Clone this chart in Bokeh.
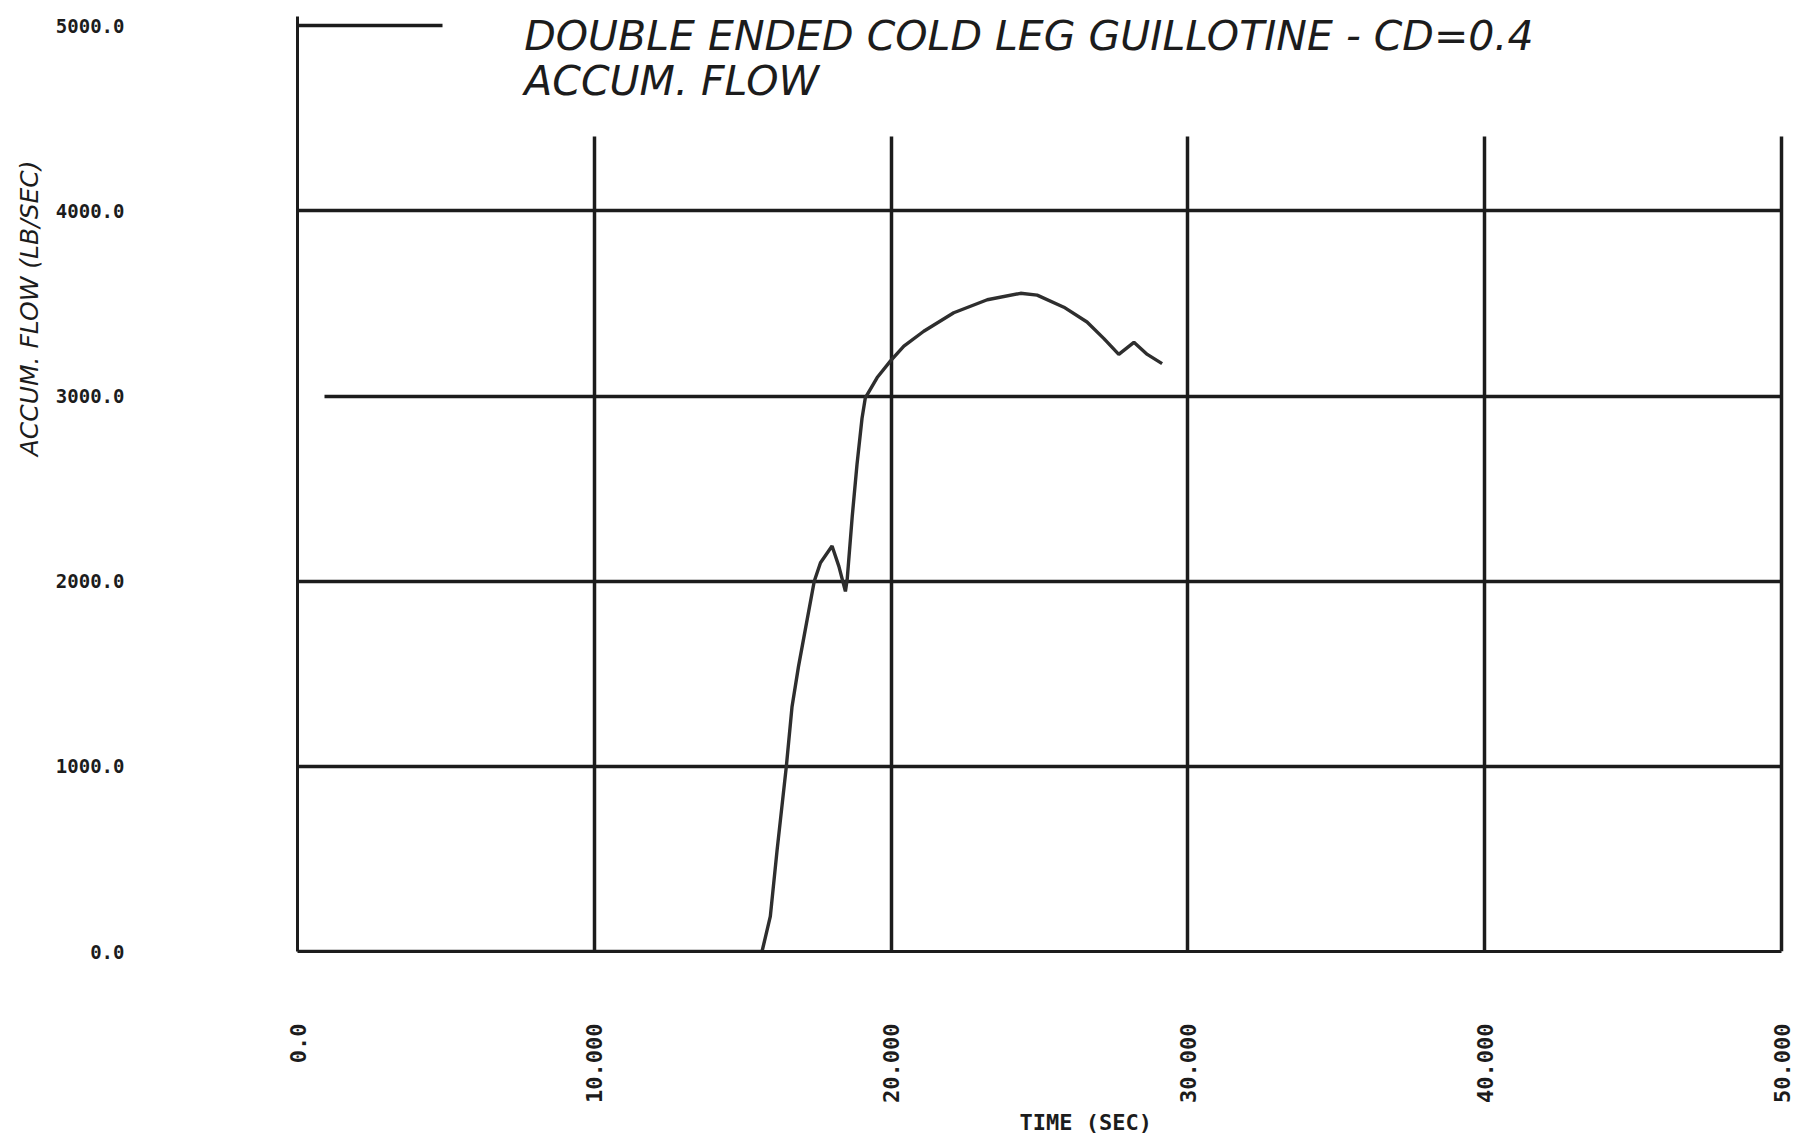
from math import pi
from bokeh.plotting import figure
from bokeh.models import FixedTicker, Grid, Label, PrintfTickFormatter, Range1d, Title
from bokeh.embed import file_html
from bokeh.resources import INLINE

# ---- data ----
time_sec = [0.0, 15.65, 15.93, 16.16, 16.47, 16.66, 16.88, 17.11, 17.41, 17.62,
            18.01, 18.24, 18.46, 18.52, 18.69, 18.85, 19.02, 19.13, 19.53, 19.98,
            20.43, 21.10, 22.11, 23.24, 24.36, 24.92, 25.82, 26.60, 27.17, 27.67,
            28.18, 28.63, 29.13]
accum_flow = [0, 0, 190, 550, 1000, 1320, 1540, 1740, 2000, 2100,
              2190, 2080, 1945, 2010, 2350, 2630, 2880, 2990, 3100, 3190,
              3270, 3350, 3450, 3520, 3555, 3545, 3480, 3400, 3310, 3225,
              3290, 3225, 3175]

x_ticks = [0, 10, 20, 30, 40, 50]
x_tick_labels = ["0.0", "10.000", "20.000", "30.000", "40.000", "50.000"]
y_ticks = [0, 1000, 2000, 3000, 4000, 5000]

title_line1 = "DOUBLE ENDED COLD LEG GUILLOTINE - CD=0.4"
title_line2 = "ACCUM. FLOW"
x_title = "TIME (SEC)"
y_title = "ACCUM. FLOW (LB/SEC)"

INK = "#1c1c1c"
MONO = "DejaVu Sans Mono"

p = figure(width=1795, height=1144,
           x_range=Range1d(0, 50.47), y_range=Range1d(0, 5050),
           output_backend="svg", toolbar_location=None,
           min_border_left=297, min_border_right=0,
           min_border_top=16, min_border_bottom=193)
p.outline_line_color = None
p.background_fill_color = "white"
p.border_fill_color = "white"

# x axis
xa = p.xaxis[0]
xa.ticker = FixedTicker(ticks=x_ticks)
xa.bounds = (0, 50)
xa.major_label_overrides = {t: l for t, l in zip(x_ticks, x_tick_labels)}
xa.major_label_orientation = pi / 2
xa.major_label_standoff = 66
xa.major_label_text_font = MONO
xa.major_label_text_font_style = "bold"
xa.major_label_text_font_size = "22px"
xa.major_label_text_color = INK
xa.major_tick_line_color = None
xa.minor_tick_line_color = None
xa.axis_line_color = INK
xa.axis_line_width = 3

# y axis
ya = p.yaxis[0]
ya.ticker = FixedTicker(ticks=y_ticks)
ya.formatter = PrintfTickFormatter(format="%.1f")
ya.major_label_standoff = 167
ya.major_label_text_font = MONO
ya.major_label_text_font_style = "bold"
ya.major_label_text_font_size = "19px"
ya.major_label_text_color = INK
ya.major_tick_line_color = None
ya.minor_tick_line_color = None
ya.axis_line_color = INK
ya.axis_line_width = 3

# grids
p.xgrid.ticker = FixedTicker(ticks=[10, 20, 30, 40, 50])
p.xgrid.cross_bounds = (0, 4400)
p.ygrid.ticker = FixedTicker(ticks=[1000, 2000, 4000])
p.ygrid.cross_bounds = (0, 50)
for g in (p.xgrid[0], p.ygrid[0]):
    g.grid_line_color = INK
    g.grid_line_width = 3.5
    g.grid_line_alpha = 1.0

g3000 = Grid(dimension=1, ticker=FixedTicker(ticks=[3000]), cross_bounds=(0.9, 50),
             grid_line_color=INK, grid_line_width=3.5)
gtop = Grid(dimension=1, ticker=FixedTicker(ticks=[5000]), cross_bounds=(0, 4.9),
            grid_line_color=INK, grid_line_width=3.5)
p.add_layout(g3000)
p.add_layout(gtop)

# data curve
p.line(time_sec, accum_flow, line_color="#2e2e2e", line_width=3.4)

# chart titles inside the plot area
p.add_layout(Label(x=7.64, y=4943, text=title_line1, text_font="DejaVu Sans",
                   text_font_style="italic", text_font_size="41px", text_color=INK,
                   text_baseline="alphabetic"))
p.add_layout(Label(x=7.64, y=4703, text=title_line2, text_font="DejaVu Sans",
                   text_font_style="italic", text_font_size="41px", text_color=INK,
                   text_baseline="alphabetic"))

# axis titles
p.add_layout(Title(text=y_title, align="right", offset=144, standoff=18,
                   text_font="DejaVu Sans", text_font_style="italic",
                   text_font_size="25px", text_color=INK), "left")
p.add_layout(Title(text=x_title, align="left", offset=722, standoff=4,
                   text_font=MONO, text_font_style="bold",
                   text_font_size="22px", text_color=INK), "below")

open("out.html", "w").write(file_html(p, INLINE))
